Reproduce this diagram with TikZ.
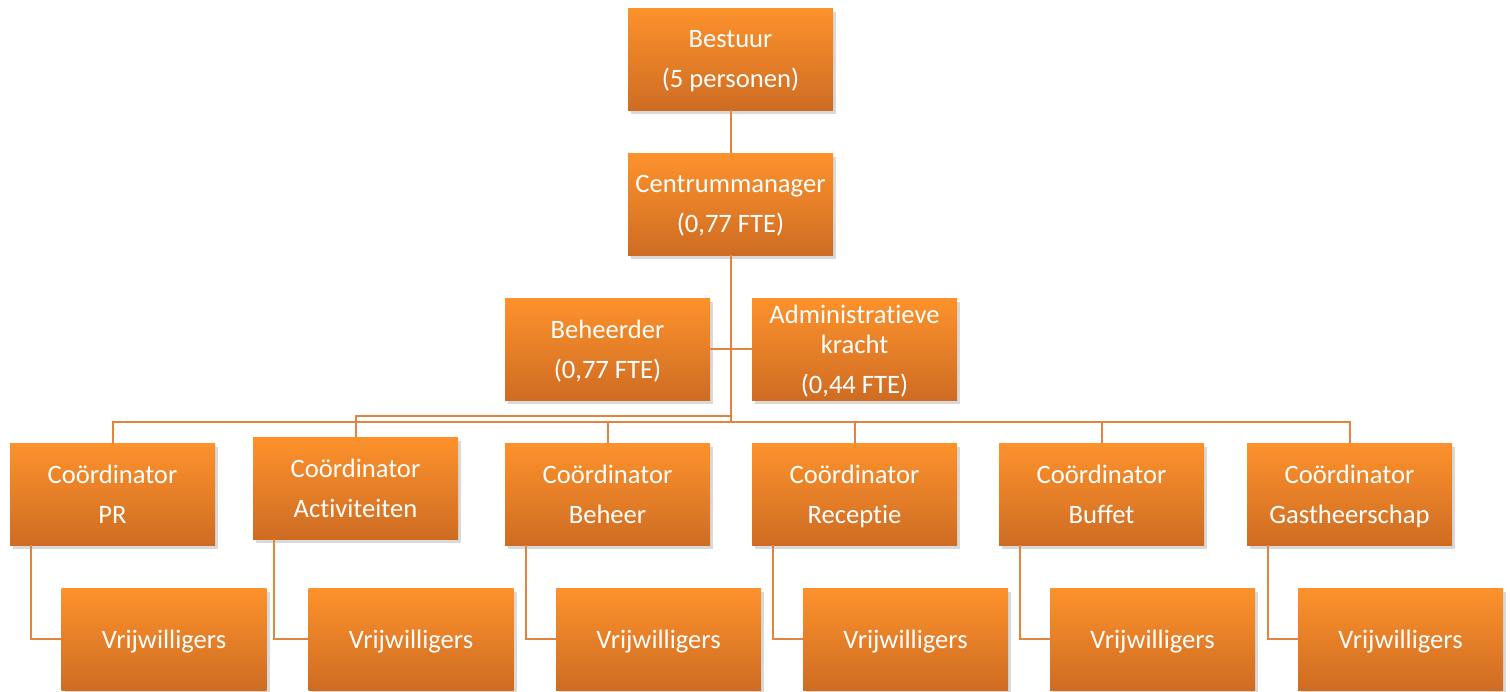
\documentclass[tikz,border=0pt]{standalone}
\usepackage{fontspec}
\setmainfont{Carlito}[RawFeature=-liga]
\usetikzlibrary{shadows}

\definecolor{boxtop}{RGB}{253,146,44}
\definecolor{boxbot}{RGB}{206,108,35}
\definecolor{linkcol}{RGB}{226,132,64}

\tikzset{
  orgbox/.style={minimum width=102.5pt, minimum height=51pt, inner sep=0pt,
    top color=boxtop, bottom color=boxbot, text=white, align=center,
    font=\fontsize{13.3pt}{20pt}\selectfont, text depth=0pt,
    drop shadow={shadow xshift=1.5pt, shadow yshift=-2pt, opacity=0.3}},
  link/.style={draw=linkcol, line width=1pt}
}

\begin{document}
\begin{tikzpicture}[x=0.5pt, y=-0.5pt]
      \useasboundingbox (0,0) rectangle (1510,691);

      % top of the tree
      \node[orgbox] (bestuur) at (730.5,59) {Bestuur\\(5 personen)};
      \node[orgbox] (manager) at (730.5,204) {Centrummanager\\(0,77 FTE)};
      \node[orgbox] (beheerder) at (607.5,349) {Beheerder\\(0,77 FTE)};
      \node[orgbox] (admin) at (854.5,349) {Administratieve\\[-5pt]kracht\\(0,44 FTE)};

      % coordinators
      \node[orgbox] (cPR) at (112.5,494) {Coördinator\\PR};
      \node[orgbox] (cAct) at (355.5,488) {Coördinator\\Activiteiten};
      \node[orgbox] (cBeh) at (607.5,494) {Coördinator\\Beheer};
      \node[orgbox] (cRec) at (854.5,494) {Coördinator\\Receptie};
      \node[orgbox] (cBuf) at (1101.5,494) {Coördinator\\Buffet};
      \node[orgbox] (cGas) at (1349.5,494) {Coördinator\\Gastheerschap};

      % volunteers
      \node[orgbox] (vPR) at (164,639) {Vrijwilligers};
      \node[orgbox] (vAct) at (411,639) {Vrijwilligers};
      \node[orgbox] (vBeh) at (658.5,639) {Vrijwilligers};
      \node[orgbox] (vRec) at (905.5,639) {Vrijwilligers};
      \node[orgbox] (vBuf) at (1152.5,639) {Vrijwilligers};
      \node[orgbox] (vGas) at (1400.5,639) {Vrijwilligers};

      \coordinate (hub) at (730.5,422);
      \coordinate (hubA) at (730.5,416);

      \draw[link] (bestuur) -- (manager);
      \draw[link] (manager) -- (hub);
      \draw[link] (beheerder.east) -- (admin.west);
      \draw[link] (hub) -| (cPR.north);
      \draw[link] (hubA) -| (cAct.north);
      \draw[link] (hub) -| (cBeh.north);
      \draw[link] (hub) -| (cRec.north);
      \draw[link] (hub) -| (cBuf.north);
      \draw[link] (hub) -| (cGas.north);

      \draw[link] ([xshift=10.5pt]cPR.south west) |- (vPR.west);
      \draw[link] ([xshift=10.5pt]cAct.south west) |- (vAct.west);
      \draw[link] ([xshift=10.5pt]cBeh.south west) |- (vBeh.west);
      \draw[link] ([xshift=10.5pt]cRec.south west) |- (vRec.west);
      \draw[link] ([xshift=10.5pt]cBuf.south west) |- (vBuf.west);
      \draw[link] ([xshift=10.5pt]cGas.south west) |- (vGas.west);
    \end{tikzpicture}
\end{document}
